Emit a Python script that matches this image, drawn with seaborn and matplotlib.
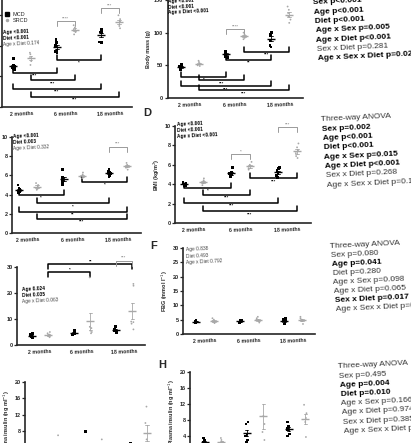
import numpy as np
import pandas as pd
import matplotlib.pyplot as plt
import seaborn as sns
from matplotlib.lines import Line2D

AGES = ["2 months", "6 months", "18 months"]
DIETS = ["MCD", "SRCD"]
PAL = {"MCD": "black", "SRCD": "#a8a8a8"}
POS = {"M2": -0.2, "S2": 0.2, "M6": 0.8, "S6": 1.2, "M18": 1.8, "S18": 2.2}

# values per age group (2, 6, 18 months)
A_MCD = [[6.3, 5.4, 5.1, 5.0, 5.3, 4.9], [8.8, 8.4, 8.0, 7.4, 7.3, 7.1], [10.1, 9.8, 9.7, 8.4, 8.5, 9.9]]
A_SRCD = [[7.1, 6.9, 6.4, 6.0, 5.5], [10.7, 10.4, 9.8, 9.5, 10.1], [12.0, 11.5, 11.1, 10.6, 10.3, 11.2]]
B_MCD = [[45, 48, 50, 52, 46, 44], [64, 68, 70, 72, 66, 62], [100, 98, 97, 95, 88, 80, 78]]
B_SRCD = [[50, 55, 57, 53, 49], [92, 97, 100, 95, 90], [115, 125, 135, 140, 130, 120]]
C_MCD = [[5.0, 4.5, 4.4, 4.3, 4.2, 4.6], [6.6, 5.8, 5.6, 5.4, 5.2, 5.0], [6.6, 6.4, 6.2, 6.0, 5.9, 6.3]]
C_SRCD = [[5.2, 5.0, 4.8, 4.6, 4.5], [6.3, 6.1, 5.9, 5.8, 5.7], [7.3, 7.1, 6.9, 6.8, 6.6, 7.0]]
D_MCD = [[4.1, 4.0, 3.9, 4.2, 4.0, 3.9], [5.7, 5.2, 5.0, 4.9, 4.8, 5.1], [5.7, 5.6, 5.4, 5.2, 4.9, 4.7]]
D_SRCD = [[4.6, 4.3, 4.1, 3.9, 4.4], [6.3, 6.0, 5.8, 5.6, 5.5], [8.2, 7.8, 7.5, 7.2, 6.9, 6.7]]
E_MCD = [[3.0, 3.5, 4.0, 4.5, 3.2, 2.8], [4.0, 4.5, 5.0, 5.5, 4.2], [5.0, 5.5, 6.5, 7.0, 4.8, 6.0]]
E_SRCD = [[3.0, 4.0, 5.0, 3.5, 4.5], [26.0, 6.5, 5.0, 4.5, 5.5, 7.0], [23.5, 22.8, 9.0, 8.2, 8.8, 6.0]]
F_MCD = [[4.5, 4.0, 4.8, 4.2, 3.9], [4.5, 4.8, 4.2, 4.0, 4.6], [4.0, 5.0, 5.5, 3.5, 4.5]]
F_SRCD = [[4.5, 5.5, 3.8, 4.2, 5.0], [5.5, 4.0, 6.0, 4.5, 5.0], [5.0, 6.0, 3.5, 4.5, 5.5]]
G_MCD = [[3.0, 2.5, 2.0, 3.5, 1.5], [8.0, 3.0, 2.5, 2.0, 4.0], [4.0, 3.0, 5.0, 2.5, 3.5]]
G_SRCD = [[7.0, 3.0, 2.0, 2.5, 1.5], [6.0, 3.5, 2.5, 3.0, 2.0], [14.0, 10.0, 6.0, 4.5, 3.0]]
H_MCD = [[3.5, 2.5, 2.0, 1.5, 3.0], [7.5, 7.0, 4.0, 3.0, 2.5, 4.5], [7.5, 6.5, 6.0, 5.5, 4.5, 4.0]]
H_SRCD = [[3.5, 2.5, 2.0, 3.0, 1.5], [20.5, 9.0, 7.0, 5.0, 3.0], [11.8, 9.7, 8.5, 7.5, 3.75]]

# significance brackets: (from, to, height, stars, style)
BR_A = [("M2", "M6", 4.5, "***", "low"), ("S2", "S6", 3.5, "***", "low"),
        ("M2", "M18", 2.4, "***", "low"), ("S2", "S18", 1.3, "***", "low"),
        ("M6", "M18", 6.2, "*", "low"), ("M6", "S6", 11.2, "****", "grey"),
        ("M18", "S18", 13.0, "***", "grey")]
BR_B = [("M2", "M6", 32, "*", "low"), ("S2", "S6", 27, "***", "low"),
        ("M2", "M18", 18, "***", "low"), ("S2", "S18", 12, "***", "low"),
        ("M6", "M18", 58, "**", "low"), ("S6", "S18", 71, "***", "low"),
        ("M6", "S6", 106, "****", "grey")]
BR_C = [("M2", "M6", 4.0, "*", "low"), ("S2", "M18", 3.1, "*", "low"),
        ("M2", "S18", 2.2, "**", "low"), ("S2", "S18", 1.5, "***", "low"),
        ("S6", "S18", 5.3, "*", "low"), ("M18", "S18", 9.0, "***", "grey")]
BR_D = [("M2", "M6", 3.6, "*", "low"), ("S2", "S6", 2.9, "***", "low"),
        ("M2", "M18", 2.1, "***", "low"), ("S2", "S18", 1.2, "***", "low"),
        ("S6", "S18", 4.6, "***", "low"), ("M6", "S6", 7.1, "*", "grey"),
        ("M18", "S18", 9.9, "***", "grey")]
BR_E = [("S2", "S6", 28, "*", "high"), ("S2", "S18", 31, "**", "high"),
        ("M18", "S18", 32.5, "***", "grey")]

# two-way results printed inside panels: (text, bold)
ST_A = [("Age <0.001", True), ("Diet <0.001", True), ("Age x Diet 0.174", False)]
ST_B = [("Age <0.001", True), ("Diet <0.001", True), ("Age x Diet <0.001", True)]
ST_C = [("Age <0.001", True), ("Diet 0.003", True), ("Age x Diet 0.332", False)]
ST_D = [("Age <0.001", True), ("Diet <0.001", True), ("Age x Diet <0.001", True)]
ST_E = [("Age 0.024", True), ("Diet 0.035", True), ("Age x Diet 0.063", False)]
ST_F = [("Age 0.838", False), ("Diet 0.493", False), ("Age x Diet 0.792", False)]

# three-way ANOVA blocks on the right
AN_1 = [("Sex p<0.001", True), ("Age p<0.001", True), ("Diet p<0.001", True),
        ("Age x Sex p=0.005", True), ("Age x Diet p<0.001", True),
        ("Sex x Diet p=0.281", False), ("Age x Sex x Diet p=0.024", True)]
AN_2 = [("Three-way ANOVA", False), ("Sex p=0.002", True), ("Age p<0.001", True),
        ("Diet p<0.001", True), ("Age x Sex p=0.015", True), ("Age x Diet p<0.001", True),
        ("Sex x Diet p=0.268", False), ("Age x Sex x Diet p=0.173", False)]
AN_3 = [("Three-way ANOVA", False), ("Sex p=0.080", False), ("Age p=0.041", True),
        ("Diet p=0.280", False), ("Age x Sex p=0.098", False), ("Age x Diet p=0.065", False),
        ("Sex x Diet p=0.017", True), ("Age x Sex x Diet p=0.412", False)]
AN_4 = [("Three-way ANOVA", False), ("Sex p=0.495", False), ("Age p=0.004", True),
        ("Diet p=0.010", True), ("Age x Sex p=0.166", False), ("Age x Diet p=0.974", False),
        ("Sex x Diet p=0.385", False), ("Age x Sex x Diet p=0.512", False)]

sns.set_style("ticks")
plt.rcParams["font.family"] = ["Liberation Sans", "DejaVu Sans"]
np.random.seed(3)

W, H = 411, 443
fig = plt.figure(figsize=(W / 100, H / 100), dpi=100)
TILT = 2.7


def ftext(x, y, s, **kw):
    fig.text(x / W, 1 - y / H, s, **kw)


def to_long(mcd, srcd):
    rows = []
    for diet, groups in (("MCD", mcd), ("SRCD", srcd)):
        for age, vals in zip(AGES, groups):
            rows += [(age, diet, v) for v in vals]
    return pd.DataFrame(rows, columns=["age", "diet", "value"])


def bracket(ax, a, b, y, label, style, dy):
    x0, x1 = POS[a], POS[b]
    col = "#9a9a9a" if style == "grey" else "black"
    lw = 0.7 if style == "grey" else 1.1
    if style == "low":
        ax.plot([x0, x0, x1, x1], [y + dy, y, y, y + dy], color=col, lw=lw, clip_on=False)
        ax.text((x0 + x1) / 2, y - dy * 0.2, label, ha="center", va="top",
                fontsize=3.2, color=col, fontweight="bold")
    else:
        ax.plot([x0, x0, x1, x1], [y - dy, y, y, y - dy], color=col, lw=lw, clip_on=False)
        ax.text((x0 + x1) / 2, y + dy * 0.1, label, ha="center", va="bottom",
                fontsize=3.2, color=col, fontweight="bold")


def panel(l, r, t, b, xlo, ylim, yticks, mcd, srcd, ylabel=None, brackets=(), ytl=True):
    ax = fig.add_axes([l / W, 1 - b / H, (r - l) / W, (b - t) / H])
    df = to_long(mcd, srcd)
    common = dict(x="age", y="value", hue="diet", hue_order=DIETS, order=AGES,
                  palette=PAL, legend=False, ax=ax)
    sns.stripplot(data=df[df.diet == "MCD"], dodge=True, marker="s", size=2.0,
                  jitter=0.07, linewidth=0, **common)
    sns.stripplot(data=df[df.diet == "SRCD"], dodge=True, marker="o", size=1.3,
                  jitter=0.07, linewidth=0, **common)
    sns.pointplot(data=df, dodge=0.4, markers=["_", "_"], linestyles=["none", "none"],
                  errorbar="se", capsize=0.08, markersize=6, markeredgewidth=1.0,
                  err_kws={"linewidth": 0.6}, **common)
    ax.set_xlim(xlo, 2.5)
    ax.set_ylim(*ylim)
    ax.set_yticks(yticks)
    ax.set_xticks([0, 1, 2], AGES)
    for lbl in ax.get_xticklabels():
        lbl.set_fontweight("bold")
        lbl.set_rotation(TILT)
    for lbl in ax.get_yticklabels():
        lbl.set_fontweight("bold")
    if not ytl:
        ax.set_yticklabels([])
    ax.tick_params(axis="x", length=0, pad=2.5, labelsize=3.8)
    ax.tick_params(axis="y", length=2, width=0.9, pad=1, labelsize=4)
    ax.set_xlabel("")
    ax.set_ylabel(ylabel or "", fontsize=4, fontweight="bold", labelpad=2)
    sns.despine(ax=ax)
    for s in ("left", "bottom"):
        ax.spines[s].set_linewidth(1.2)
    dy = 5.0 * (ylim[1] - ylim[0]) / (b - t)
    for a_, b_, y, lab, st in brackets:
        bracket(ax, a_, b_, y, lab, st, dy)
    return ax


def stats(x, y, lines, step):
    for i, (s, bold) in enumerate(lines):
        ftext(x, y + i * step, s, fontsize=3.5, va="center", ha="left",
              fontweight="bold" if bold else "normal",
              color="black" if bold else "#444444", rotation=TILT, rotation_mode="anchor")


def anova(x, y, lines, step=9.3):
    for i, (s, bold) in enumerate(lines):
        ftext(x + i * 0.8, y + i * step, s, fontsize=6, va="center", ha="left",
              fontweight="bold" if bold else "normal",
              color="black" if bold else "#333333", rotation=TILT, rotation_mode="anchor")


# row 1
panel(2, 132, 0, 107, -0.45, (0, 14), [0, 4, 8, 12], A_MCD, A_SRCD, brackets=BR_A, ytl=False)
panel(167.5, 302.5, 0, 98, -0.5, (0, 150), [0, 50, 100, 150], B_MCD, B_SRCD,
      ylabel="Body mass (g)", brackets=BR_B)
stats(3, 33, ST_A, 5.6)
stats(168, 1.5, ST_B, 5.6)
anova(313, 3, AN_1)
fig.legend(handles=[Line2D([], [], marker="s", color="black", ls="none", ms=2.2),
                    Line2D([], [], marker="o", color=PAL["SRCD"], ls="none", ms=1.5)],
           labels=DIETS, loc="upper left", bbox_to_anchor=(2 / W, 1 - 9 / H), frameon=False,
           fontsize=4, handlelength=0.8, handletextpad=0.6, labelspacing=0.15, borderpad=0)

# row 2
panel(12, 140.5, 137, 233, -0.35, (0, 10), [0, 2, 4, 6, 8, 10], C_MCD, C_SRCD, brackets=BR_C)
panel(175, 311, 126, 223, -0.4, (0, 10), [0, 2, 4, 6, 8, 10], D_MCD, D_SRCD,
      ylabel="BMI (kg/m$^2$)", brackets=BR_D)
stats(13, 137, ST_C, 5.8)
stats(177, 125, ST_D, 6.0)
ftext(143, 113, "D", fontsize=8, fontweight="bold", va="center", ha="left")
anova(321, 120, AN_2)

# row 3
panel(17, 145, 267, 345, -0.55, (0, 30), [0, 10, 20, 30], E_MCD, E_SRCD,
      ylabel="FBG (mmol l$^{-1}$)", brackets=BR_E)
panel(183, 315, 248, 334, -0.5, (0, 30), [0, 5, 10, 15, 20, 25, 30], F_MCD, F_SRCD,
      ylabel="FBG (mmol l$^{-1}$)")
stats(22, 290, ST_E, 6.0)
stats(186, 250, ST_F, 6.5)
ftext(150, 246, "F", fontsize=8, fontweight="bold", va="center", ha="left")
anova(330, 247, AN_3, 9.0)

# row 4
panel(25, 160, 382, 464, -0.57, (0, 20), [0, 4, 8, 12, 16, 20], G_MCD, G_SRCD,
      ylabel="Plasma insulin (ng ml$^{-1}$)")
panel(190, 318, 372, 452, -0.55, (0, 20), [0, 4, 8, 12, 16, 20], H_MCD, H_SRCD,
      ylabel="Plasma insulin (ng ml$^{-1}$)")
ftext(158, 365, "H", fontsize=8, fontweight="bold", va="center", ha="left")
anova(338, 367, AN_4, 9.2)

fig.savefig("out.png", dpi=100)
